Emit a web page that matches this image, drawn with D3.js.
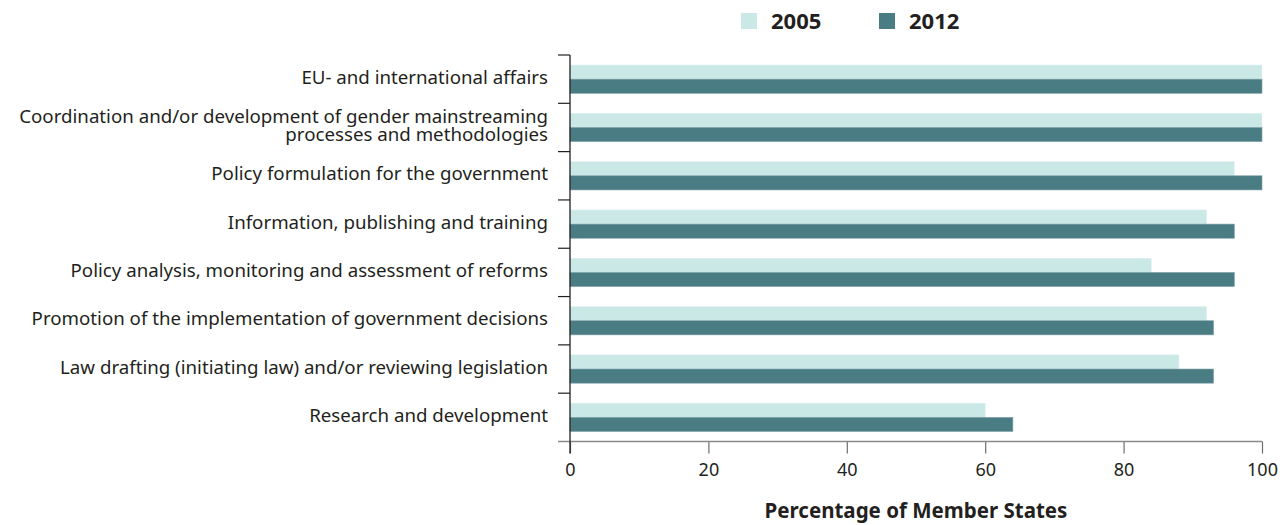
<!DOCTYPE html>
<html>
<head>
<meta charset="utf-8">
<script src="https://cdn.jsdelivr.net/npm/d3@7"></script>
<style>
  body { margin: 0; background: #fff; }
  svg text { font-family: "Noto Sans", "Open Sans", sans-serif; fill: #231f20; }
</style>
</head>
<body>
<div id="chart"></div>
<script>
// tasks of the gender equality bodies
var categories = [
    ["EU- and international affairs"],
    ["Coordination and/or development of gender mainstreaming", "processes and methodologies"],
    ["Policy formulation for the government"],
    ["Information, publishing and training"],
    ["Policy analysis, monitoring and assessment of reforms"],
    ["Promotion of the implementation of government decisions"],
    ["Law drafting (initiating law) and/or reviewing legislation"],
    ["Research and development"]
];
var years = ["2005", "2012"];
var values2005 = [100, 100, 96, 92, 84, 92, 88, 60];
var values2012 = [100, 100, 100, 96, 96, 93, 93, 64];
var xTicks = [0, 20, 40, 60, 80, 100];
var colors = ["#c9e8e6", "#4a7c84"];

var w = 1282, h = 525;
var plotLeft = 570, plotRight = 1262, plotTop = 55, plotBottom = 441.5;

var svg = d3.select("#chart").append("svg")
    .attr("width", w)
    .attr("height", h);

var x = d3.scaleLinear()
    .domain([0, 100])
    .range([plotLeft, plotRight]);

var idx = d3.range(categories.length);
var y = d3.scaleBand()
    .domain(idx)
    .range([plotTop, plotBottom]);

var sub = d3.scaleBand()
    .domain(years)
    .range([10, y.bandwidth() - 10]);

var series = [values2005, values2012];

// bars
series.forEach(function (vals, s) {
    svg.selectAll(".bar" + s)
        .data(vals)
        .enter().append("rect")
        .attr("class", "bar" + s)
        .attr("x", x(0))
        .attr("y", function (d, i) { return y(i) + sub(years[s]); })
        .attr("width", function (d) { return x(d) - x(0); })
        .attr("height", sub.bandwidth())
        .attr("fill", colors[s])
        .attr("stroke", s == 0 ? "#dff2f1" : "#7fa2a8")
        .attr("stroke-width", 0.6);
});

// x axis
var xAxis = svg.append("g")
    .attr("transform", "translate(0," + plotBottom + ")")
    .call(d3.axisBottom(x).tickValues(xTicks).tickSize(12).tickSizeOuter(0).tickPadding(10));
xAxis.select(".domain").remove();
xAxis.append("line")
    .attr("x1", plotLeft - 12).attr("x2", plotRight)
    .attr("stroke", "#8a8a8a").attr("stroke-width", 1.5);
xAxis.selectAll(".tick line").attr("stroke", "#6d6d6d").attr("stroke-width", 1.2);
xAxis.selectAll(".tick text")
    .style("font-size", "18px")
    .style("font-family", "\"Noto Sans\", sans-serif")
    .attr("fill", "#231f20");

// y axis: ticks between the categories
svg.selectAll(".ytick")
    .data(idx)
    .enter().append("line")
    .attr("x1", plotLeft - 12).attr("x2", plotLeft)
    .attr("y1", function (d) { return y(d); })
    .attr("y2", function (d) { return y(d); })
    .attr("stroke", "#231f20").attr("stroke-width", 1.2);
svg.append("line")
    .attr("x1", plotLeft).attr("x2", plotLeft)
    .attr("y1", plotTop).attr("y2", plotBottom + 12)
    .attr("stroke", "#231f20").attr("stroke-width", 1.3);

// category labels
categories.forEach(function (lines, i) {
    var cy = y(i) + y.bandwidth() / 2;
    var t = svg.append("text")
        .attr("text-anchor", "end")
        .style("font-size", "18.7px");
    lines.forEach(function (l, j) {
        t.append("tspan")
            .attr("x", plotLeft - 22)
            .attr("y", cy + (j - (lines.length - 1) / 2) * 18.5 - 2)
            .attr("dy", "0.35em")
            .text(l);
    });
});

// axis title
svg.append("text")
    .attr("x", 916)
    .attr("y", 518)
    .attr("text-anchor", "middle")
    .style("font-size", "20.5px")
    .style("font-weight", "bold")
    .text("Percentage of Member States");

// legend
var legendX = [741, 879];
var legend = svg.selectAll(".legend")
    .data(years)
    .enter().append("g")
    .attr("transform", function (d, i) { return "translate(" + legendX[i] + ",13)"; });
legend.append("rect")
    .attr("width", 16).attr("height", 16)
    .attr("fill", function (d, i) { return colors[i]; });
legend.append("text")
    .attr("x", 30).attr("y", 8)
    .attr("dy", "0.35em")
    .style("font-size", "22px")
    .style("font-weight", "bold")
    .text(function (d) { return d; });
</script>
</body>
</html>
